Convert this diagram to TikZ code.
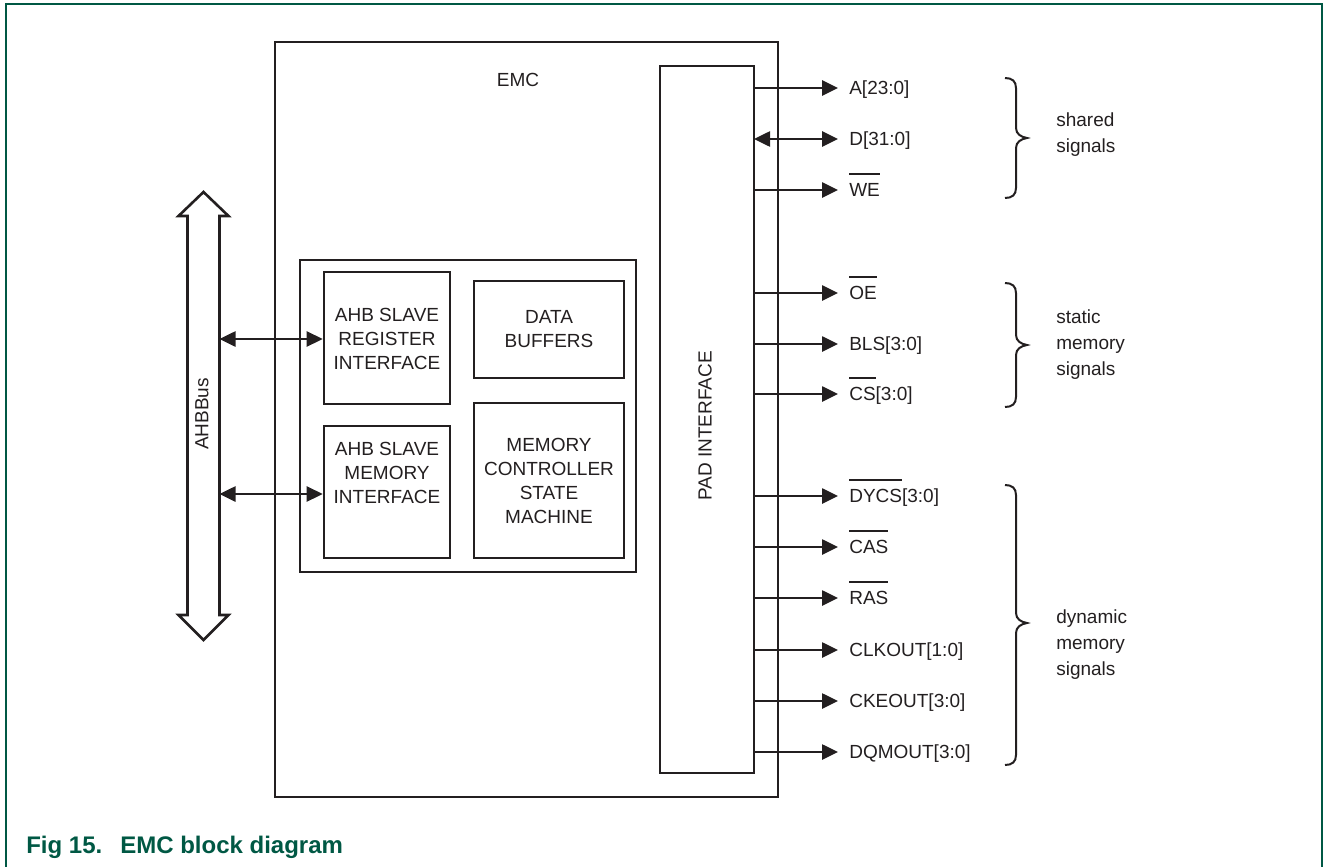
\documentclass[tikz,border=0pt]{standalone}
\usepackage{fontspec}
\setmainfont{Liberation Sans}
\usetikzlibrary{arrows.meta}
\definecolor{nxpgreen}{RGB}{0,88,68}
\definecolor{ink}{RGB}{35,31,32}
\newcommand\ovl[1]{\setbox0\hbox{#1}\rlap{\raisebox{21.5pt}{\color{ink}\vrule width\wd0 height 2pt depth 0pt}}\box0}
\begin{document}
\begin{tikzpicture}[x=1pt,y=-1pt,
  line width=2.6pt, draw=ink, text=ink,
  txt/.style={font=\fontsize{19}{24}\selectfont, align=center, inner sep=0pt},
  blk/.style={draw, inner sep=0pt},
  sig/.style={-{Triangle[length=16pt,width=15pt]}},
  bsig/.style={{Triangle[length=16pt,width=15pt]}-{Triangle[length=16pt,width=15pt]}},
  lab/.style={font=\fontsize{19}{24}\selectfont, anchor=base west, inner sep=0pt},
  brc/.style={line width=2pt},
  grp/.style={font=\fontsize{19}{26}\selectfont, align=left, anchor=west, inner sep=0pt}]
\useasboundingbox (0,0) rectangle (1328,867);
% outer frame
\draw[nxpgreen, line width=2pt] (6,867) -- (6,4.5) -- (1322,4.5) -- (1322,867);
% EMC box
\node[blk, minimum width=503pt, minimum height=755pt] (emc) at (526.5,419.5) {};
\node[txt] (emct) at (518,80) {EMC};
% PAD interface
\node[blk, minimum width=94pt, minimum height=707pt] (pad) at (707,419.5) {};
\node[txt, rotate=90] (padt) at (705,426) {PAD INTERFACE};
% inner group box
\node[blk, minimum width=336pt, minimum height=312pt] (grpbox) at (468,416) {};
% blocks
\node[blk, minimum width=126pt, minimum height=132pt] (reg) at (387,338) {};
\node[txt] (regt) at (387,339) {AHB SLAVE\\REGISTER\\INTERFACE};
\node[blk, minimum width=126pt, minimum height=132pt] (mem) at (387,492) {};
\node[txt] (memt) at (387,473) {AHB SLAVE\\MEMORY\\INTERFACE};
\node[blk, minimum width=150pt, minimum height=97pt] (buf) at (549,329.5) {};
\node[txt] (buft) at (549,329) {DATA\\BUFFERS};
\node[blk, minimum width=150pt, minimum height=155pt] (ctl) at (549,480.5) {};
\node[txt] (ctlt) at (549,480.5) {MEMORY\\CONTROLLER\\STATE\\MACHINE};
% AHB bus double arrow
\draw[fill=white] (203.5,192) -- (228.5,216) -- (219.5,216) -- (219.5,615) -- (228.5,615)
  -- (203.5,640) -- (178.5,615) -- (187.5,615) -- (187.5,216) -- (178.5,216) -- cycle;
\node[txt, rotate=90] (bus) at (202,414) {AHBBus};
\coordinate (busa) at (219.5,339);
\coordinate (busb) at (219.5,494);
\draw[bsig] (busa) -- (reg.west |- busa);
\draw[bsig] (busb) -- (mem.west |- busb);
% signals
\foreach \nm/\yy/\tx in {a/88/{A[23:0]}, we/190/{\ovl{WE}}, oe/293/{\ovl{OE}},
  bls/344/{BLS[3:0]}, cs/394/{\ovl{CS}[3:0]}, dycs/496/{\ovl{DYCS}[3:0]},
  cas/547/{\ovl{CAS}}, ras/598/{\ovl{RAS}}, clk/650/{CLKOUT[1:0]},
  cke/701/{CKEOUT[3:0]}, dqm/752/{DQMOUT[3:0]}}{
  \node[lab] (\nm) at (848,\yy+6.8) {\tx};
  \coordinate (\nm s) at (754,\yy);
  \draw[sig] (\nm s) -- (838,\yy);
}
\node[lab] (d) at (848,139+6.8) {D[31:0]};
\coordinate (ds) at (754,139);
\draw[bsig] (ds) -- (838,139);
% braces
\draw[brc] (1005,78) .. controls (1012,78) and (1016,81) .. (1016,88) -- (1016,128)
  .. controls (1016,134) and (1021,137) .. (1027,138)
  .. controls (1021,139) and (1016,142) .. (1016,148) -- (1016,188)
  .. controls (1016,195) and (1012,198) .. (1005,198);
\node[grp] (shared) at (1055,135) {shared\\signals};
\draw[brc] (1005,283) .. controls (1012,283) and (1016,286) .. (1016,293) -- (1016,335)
  .. controls (1016,341) and (1021,344) .. (1027,345)
  .. controls (1021,346) and (1016,349) .. (1016,355) -- (1016,397)
  .. controls (1016,404) and (1012,407) .. (1005,407);
\node[grp] (static) at (1055,345) {static\\memory\\signals};
\draw[brc] (1005,485) .. controls (1012,485) and (1016,488) .. (1016,495) -- (1016,613)
  .. controls (1016,619) and (1021,622) .. (1027,623)
  .. controls (1021,624) and (1016,627) .. (1016,633) -- (1016,755)
  .. controls (1016,762) and (1012,765) .. (1005,765);
\node[grp] (dyn) at (1055,645) {dynamic\\memory\\signals};
% caption
\node[font=\fontsize{24}{28}\selectfont\bfseries, text=nxpgreen, anchor=base west, inner sep=0pt] (cap1) at (25,853) {Fig 15.};
\node[font=\fontsize{24}{28}\selectfont\bfseries, text=nxpgreen, anchor=base west, inner sep=0pt] (cap2) at (119,853) {EMC block diagram};
\end{tikzpicture}
\end{document}
